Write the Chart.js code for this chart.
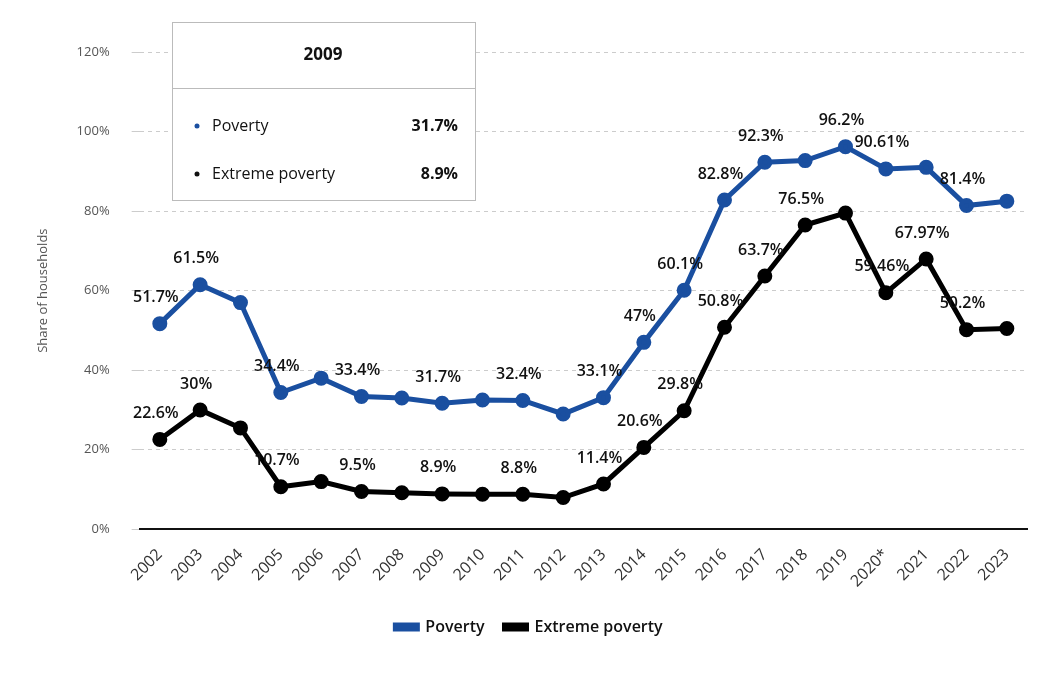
<!DOCTYPE html>
<html>
<head>
<meta charset="utf-8">
<script src="https://cdn.jsdelivr.net/npm/chart.js@4"></script>
<style>
  body { margin: 0; background: #fff; }
  #wrap { width: 1044px; height: 675px; }
</style>
</head>
<body>
<div id="wrap"><canvas id="chart"></canvas></div>
<script>
const years = ['2002','2003','2004','2005','2006','2007','2008','2009','2010','2011','2012','2013','2014','2015','2016','2017','2018','2019','2020*','2021','2022','2023'];
const poverty = [51.7, 61.5, 57, 34.4, 38, 33.4, 33, 31.7, 32.5, 32.4, 29, 33.1, 47, 60.1, 82.8, 92.3, 92.7, 96.2, 90.61, 91, 81.4, 82.5];
const extreme = [22.6, 30, 25.5, 10.7, 12, 9.5, 9.2, 8.9, 8.8, 8.8, 8, 11.4, 20.6, 29.8, 50.8, 63.7, 76.5, 79.5, 59.46, 67.97, 50.2, 50.5];
// which points carry a value label
const povertyLabels = ['51.7%','61.5%','','34.4%','','33.4%','','31.7%','','32.4%','','33.1%','47%','60.1%','82.8%','92.3%','','96.2%','90.61%','','81.4%',''];
const extremeLabels = ['22.6%','30%','','10.7%','','9.5%','','8.9%','','8.8%','','11.4%','20.6%','29.8%','50.8%','63.7%','76.5%','','59.46%','67.97%','50.2%',''];

const FONT = '"Open Sans", "DejaVu Sans", sans-serif';

// value labels above the points
const labelPlugin = {
  id: 'labels',
  afterDatasetsDraw(chart) {
    const ctx = chart.ctx;
    ctx.save();
    ctx.font = '600 16px ' + FONT;
    ctx.fillStyle = '#111';
    ctx.textAlign = 'center';
    ctx.textBaseline = 'bottom';
    [povertyLabels, extremeLabels].forEach((labels, di) => {
      const meta = chart.getDatasetMeta(di);
      labels.forEach((t, i) => {
        if (!t) return;
        const p = meta.data[i];
        ctx.fillText(t, p.x - 4, p.y - 18);
      });
    });
    ctx.restore();
  }
};

// static tooltip box for 2009
const boxPlugin = {
  id: 'box',
  afterDraw(chart) {
    const ctx = chart.ctx;
    ctx.save();
    ctx.fillStyle = '#fff';
    ctx.strokeStyle = '#bbb';
    ctx.lineWidth = 1;
    ctx.fillRect(172, 22, 303, 178);
    ctx.strokeRect(172.5, 22.5, 303, 178);
    ctx.beginPath();
    ctx.moveTo(172, 88.5); ctx.lineTo(475, 88.5); ctx.stroke();
    ctx.fillStyle = '#111';
    ctx.font = 'bold 17px ' + FONT;
    ctx.textAlign = 'center';
    ctx.textBaseline = 'middle';
    ctx.fillText(years[7], 323, 55);
    ctx.font = '16px ' + FONT;
    ctx.textAlign = 'left';
    ctx.fillStyle = '#1a4fa0';
    ctx.beginPath(); ctx.arc(197, 126, 2.5, 0, Math.PI * 2); ctx.fill();
    ctx.fillStyle = '#111';
    ctx.beginPath(); ctx.arc(197, 174, 2.5, 0, Math.PI * 2); ctx.fill();
    ctx.fillText('Poverty', 212, 126);
    ctx.fillText('Extreme poverty', 212, 174);
    ctx.font = 'bold 16px ' + FONT;
    ctx.textAlign = 'right';
    ctx.fillText(poverty[7] + '%', 458, 126);
    ctx.fillText(extreme[7] + '%', 458, 174);
    ctx.restore();
  }
};

new Chart(document.getElementById('chart'), {
  type: 'line',
  data: {
    labels: years,
    datasets: [
      {
        label: 'Poverty', data: poverty,
        borderColor: '#1a4fa0', backgroundColor: '#1a4fa0',
        borderWidth: 5, pointRadius: 5, pointHoverRadius: 5, tension: 0
      },
      {
        label: 'Extreme poverty', data: extreme,
        borderColor: '#000', backgroundColor: '#000',
        borderWidth: 5, pointRadius: 5, pointHoverRadius: 5, tension: 0
      }
    ]
  },
  options: {
    responsive: true,
    maintainAspectRatio: false,
    animation: false,
    layout: { padding: { left: 31, right: 17, top: 52, bottom: 30 } },
    plugins: {
      tooltip: { enabled: false },
      legend: {
        position: 'bottom',
        labels: {
          font: { family: FONT, size: 16, weight: '600' }, color: '#111',
          boxWidth: 22, boxHeight: 4, padding: 20
        }
      }
    },
    scales: {
      x: {
        offset: true,
        grid: { display: false },
        border: { color: '#111', width: 2 },
        ticks: { color: '#333', font: { family: FONT, size: 16 }, maxRotation: 45, minRotation: 45, padding: 8 }
      },
      y: {
        min: 0, max: 120,
        grid: { color: '#ccc' },
        border: { display: false, dash: [4, 4] },
        title: { display: true, text: 'Share of households', color: '#555', font: { family: FONT, size: 13 } },
        ticks: { stepSize: 20, color: '#555', padding: 22, font: { family: FONT, size: 13 }, callback: v => v + '%' }
      }
    }
  },
  plugins: [labelPlugin, boxPlugin]
});
</script>
</body>
</html>
